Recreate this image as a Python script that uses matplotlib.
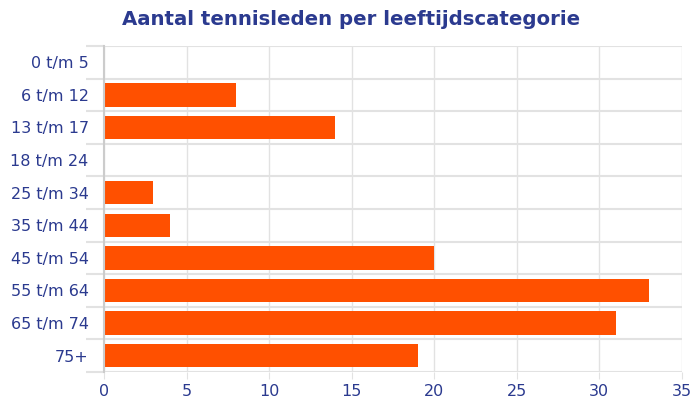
import numpy as np
import matplotlib.pyplot as plt

categories = ["0 t/m 5", "6 t/m 12", "13 t/m 17", "18 t/m 24", "25 t/m 34",
              "35 t/m 44", "45 t/m 54", "55 t/m 64", "65 t/m 74", "75+"]
members = [0, 8, 14, 0, 3, 4, 20, 33, 31, 19]
x_ticks = [0, 5, 10, 15, 20, 25, 30, 35]

text_color = "#2b3a8f"
bar_color = "#ff5000"
grid_color = "#e2e2e2"

fig = plt.figure(figsize=(6.93, 4.03), dpi=100)
ax = fig.add_axes([0.150, 0.077, 0.834, 0.809])

y = np.arange(len(categories))
ax.barh(y, members, height=0.72, color=bar_color, zorder=3)

ax.set_ylim(len(categories) - 0.5, -0.5)
ax.set_xlim(0, 35)
ax.set_xticks(x_ticks)
ax.set_yticks(y)
ax.set_yticklabels(categories)

# category separators as minor ticks that stick out to the left
ax.set_yticks(np.arange(-0.5, len(categories)), minor=True)
ax.grid(axis="y", which="minor", color=grid_color, linewidth=1.5, zorder=0)
ax.grid(axis="x", which="major", color=grid_color, linewidth=1, zorder=0)
ax.tick_params(axis="y", which="major", length=0, pad=11, labelsize=11.5, labelcolor=text_color)
ax.tick_params(axis="y", which="minor", length=13, color=grid_color, width=1.5)
ax.tick_params(axis="x", length=5, color=grid_color, pad=4, labelsize=11.5, labelcolor=text_color)

for side in ["top", "right", "bottom"]:
    ax.spines[side].set_visible(False)
ax.spines["left"].set_color("#cccccc")
ax.spines["left"].set_linewidth(1.5)
ax.spines["left"].set_zorder(4)

fig.suptitle("Aantal tennisleden per leeftijdscategorie", x=0.507, y=0.975,
             fontsize=14.2, fontweight="bold", color=text_color)

plt.savefig("out.png", dpi=100)
